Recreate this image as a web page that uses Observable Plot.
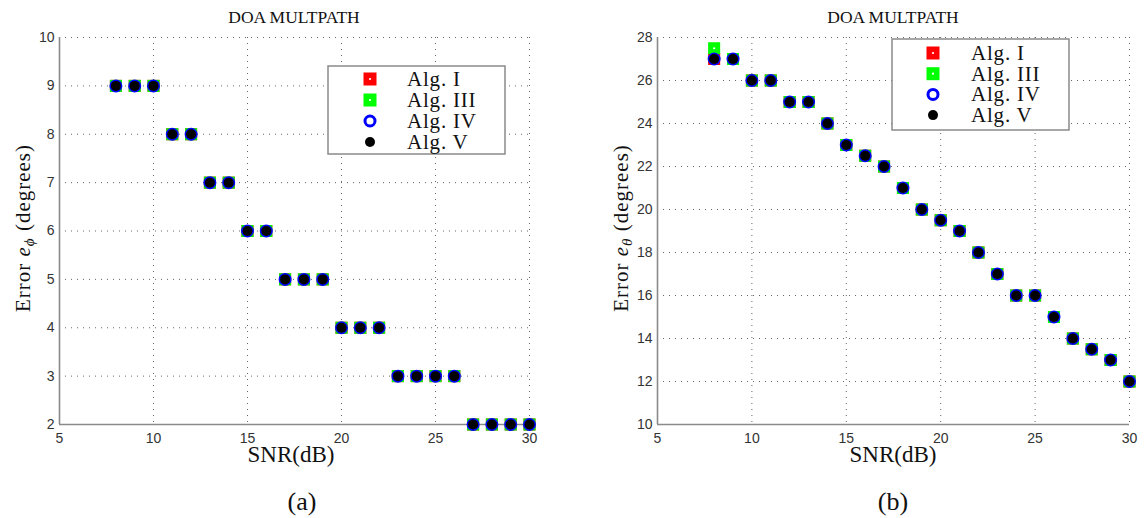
<!DOCTYPE html>
<html><head><meta charset="utf-8">
<script src="https://cdn.jsdelivr.net/npm/d3@7"></script>
<script src="https://cdn.jsdelivr.net/npm/@observablehq/plot@0.6"></script>
<style>
body{margin:0;background:#fff;}
#wrap{display:flex;width:1144px;height:518px;overflow:hidden;}
</style></head><body><div id="wrap"></div>
<script>
// ---- data ----
const snr = [8,9,10,11,12,13,14,15,16,17,18,19,20,21,22,23,24,25,26,27,28,29,30];
const phiAlgI   = [9,9,9,8,8,7,7,6,6,5,5,5,4,4,4,3,3,3,3,2,2,2,2];
const phiAlgIII = [9,9,9,8,8,7,7,6,6,5,5,5,4,4,4,3,3,3,3,2,2,2,2];
const phiAlgIV  = [9,9,9,8,8,7,7,6,6,5,5,5,4,4,4,3,3,3,3,2,2,2,2];
const phiAlgV   = [9,9,9,8,8,7,7,6,6,5,5,5,4,4,4,3,3,3,3,2,2,2,2];
const thetaAlgI   = [27,27,26,26,25,25,24,23,22.5,22,21,20,19.5,19,18,17,16,16,15,14,13.5,13,12];
const thetaAlgIII = [27.5,27,26,26,25,25,24,23,22.5,22,21,20,19.5,19,18,17,16,16,15,14,13.5,13,12];
const thetaAlgIV  = [27,27,26,26,25,25,24,23,22.5,22,21,20,19.5,19,18,17,16,16,15,14,13.5,13,12];
const thetaAlgV   = [27,27,26,26,25,25,24,23,22.5,22,21,20,19.5,19,18,17,16,16,15,14,13.5,13,12];
const xTicks = [5,10,15,20,25,30];
const phiTicks = [2,3,4,5,6,7,8,9,10];
const thetaTicks = [10,12,14,16,18,20,22,24,26,28];
const legendNames = ["Alg. I","Alg. III","Alg. IV","Alg. V"];
const titleText = "DOA MULTPATH";
const xLabelText = "SNR(dB)";

const SERIF = "'Liberation Serif','DejaVu Serif',serif";
const SANS = "'Liberation Sans',Arial,sans-serif";

function rows(ys){ return snr.map((x,i)=>({x, y: ys[i]})); }

function panel(cfg){
  const W = 572, H = 518;
  const dI = rows(cfg.s[0]), dIII = rows(cfg.s[1]), dIV = rows(cfg.s[2]), dV = rows(cfg.s[3]);
  const ymin = cfg.yDomain[0];
  const svg = Plot.plot({
    width: W, height: H,
    marginLeft: cfg.ml, marginRight: cfg.mr, marginTop: 37, marginBottom: 94,
    style: {fontFamily: SANS, fontSize: "14px", color: "#333", background: "#fff", overflow: "visible"},
    x: {domain: [5,30]},
    y: {domain: cfg.yDomain},
    marks: [
      Plot.gridX(xTicks, {stroke: "#555", strokeOpacity: 0.9, strokeDasharray: "1,5", strokeWidth: 1}),
      Plot.gridY(cfg.yTicks, {stroke: "#555", strokeOpacity: 0.9, strokeDasharray: "1,5", strokeWidth: 1}),
      Plot.ruleX([5], {stroke: "#8a8a8a", strokeWidth: 1.6}),
      Plot.ruleY([ymin], {stroke: "#8a8a8a", strokeWidth: 1.6}),
      Plot.axisX(xTicks, {tickSize: 0, tickPadding: 9, label: null, fill: "#333"}),
      Plot.axisY(cfg.yTicks, {tickSize: 0, tickPadding: 5, label: null, fill: "#333"}),
      Plot.dot(dI, {x: "x", y: "y", symbol: "square", r: 6.8, fill: "#ff0000"}),
      Plot.dot(dI, {x: "x", y: "y", r: 1.1, fill: "#fff"}),
      Plot.dot(dIII, {x: "x", y: "y", symbol: "square", r: 6.8, fill: "#00ff00"}),
      Plot.dot(dIII, {x: "x", y: "y", r: 1.1, fill: "#fff"}),
      Plot.dot(dIV, {x: "x", y: "y", r: 5.5, stroke: "#0000ff", strokeWidth: 2, fill: "none"}),
      Plot.dot(dV, {x: "x", y: "y", r: 5, fill: "#000"})
    ]
  });
  const g = d3.select(svg);
  const cx = (cfg.ml + (W - cfg.mr)) / 2;
  g.append("text").attr("x", cx).attr("y", 23).attr("text-anchor","middle")
    .attr("font-family", SERIF).attr("font-size", 17.5).attr("fill","#111").text(titleText);
  g.append("text").attr("x", cfg.xlx).attr("y", 462).attr("text-anchor","middle")
    .attr("font-family", SERIF).attr("font-size", 23).attr("fill","#111").text(xLabelText);
  g.append("text").attr("x", cfg.capx).attr("y", 510).attr("text-anchor","middle")
    .attr("font-family", SERIF).attr("font-size", 26).attr("fill","#111").text(cfg.caption);
  // y label
  const yl = g.append("text").attr("transform", `translate(${cfg.ylx},${cfg.yly}) rotate(-90)`)
    .attr("text-anchor","middle").attr("font-family", SERIF).attr("font-size", 21)
    .attr("letter-spacing", 1).attr("fill","#111");
  yl.append("tspan").text("Error ");
  yl.append("tspan").attr("font-style","italic").text("e");
  yl.append("tspan").attr("font-style","italic").attr("font-size", 15).attr("dy", 4).text(cfg.sym);
  yl.append("tspan").attr("dy", -4).text(" (degrees)");
  // legend
  const L = cfg.leg;
  const lg = g.append("g");
  lg.append("rect").attr("x", L.x).attr("y", L.y).attr("width", L.w).attr("height", L.h)
    .attr("fill","#fff").attr("stroke","#8a8a8a").attr("stroke-width",1.5);
  legendNames.forEach((name,i)=>{
    const ry = L.y + L.r0 + i*L.dy;
    const mx = L.x + L.mx;
    if(i<2){
      lg.append("rect").attr("x", mx-6.5).attr("y", ry-6.5).attr("width",13).attr("height",13)
        .attr("fill", i===0 ? "#ff0000" : "#00ff00");
      lg.append("circle").attr("cx", mx).attr("cy", ry).attr("r",1.1).attr("fill","#fff");
    } else if(i===2){
      lg.append("circle").attr("cx", mx).attr("cy", ry).attr("r",5).attr("fill","none")
        .attr("stroke","#0000ff").attr("stroke-width",3);
    } else {
      lg.append("circle").attr("cx", mx).attr("cy", ry).attr("r",5).attr("fill","#000");
    }
    lg.append("text").attr("x", L.x + L.tx).attr("y", ry + 7).attr("text-anchor","start")
      .attr("font-family", SERIF).attr("font-size", 21).attr("letter-spacing", 0.8)
      .attr("fill","#111").text(name);
  });
  return svg;
}

const wrap = document.getElementById("wrap");
wrap.appendChild(panel({
  s: [phiAlgI, phiAlgIII, phiAlgIV, phiAlgV], yDomain: [2,10], yTicks: phiTicks,
  ml: 59, mr: 43, sym: "\u03d5", caption: "(a)", capx: 302, xlx: 291, ylx: 30, yly: 228,
  leg: {x: 328, y: 66, w: 177, h: 88, r0: 13, dy: 21, mx: 42, tx: 79}
}));
wrap.appendChild(panel({
  s: [thetaAlgI, thetaAlgIII, thetaAlgIV, thetaAlgV], yDomain: [10,28], yTicks: thetaTicks,
  ml: 85, mr: 15, sym: "\u03b8", caption: "(b)", capx: 321, xlx: 321, ylx: 56, yly: 228,
  leg: {x: 320, y: 39, w: 177, h: 91, r0: 14, dy: 20.7, mx: 41, tx: 79}
}));
</script></body></html>
